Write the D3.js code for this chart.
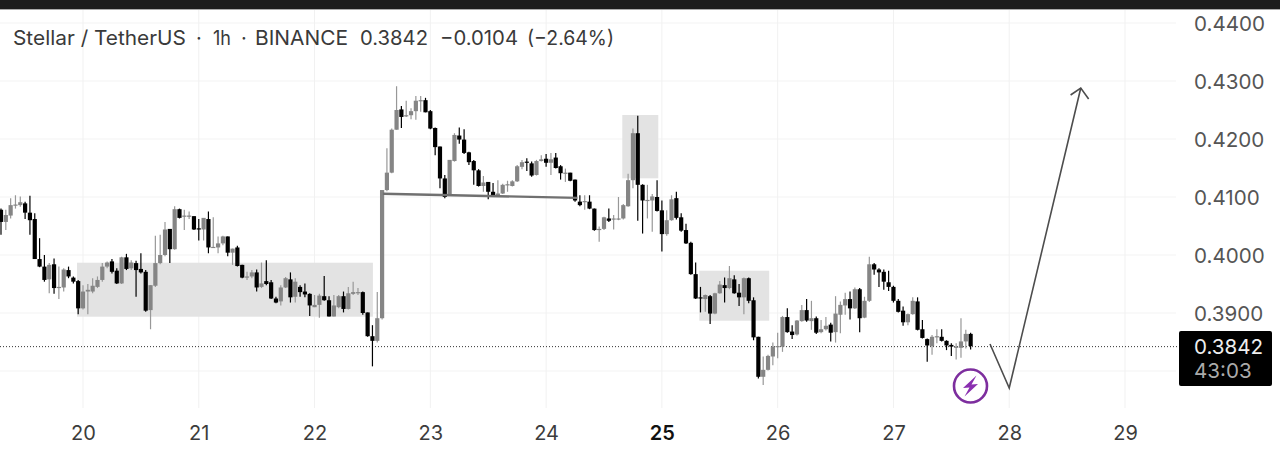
<!DOCTYPE html>
<html><head><meta charset="utf-8">
<script src="https://cdn.jsdelivr.net/npm/d3@7"></script>
<style>html,body{margin:0;padding:0;background:#fff;overflow:hidden}svg{display:block;font-family:Inter,Roboto,sans-serif}</style>
</head><body><div id="chart"></div>
<script>
const firstHour = -17; // hours relative to day 20 00:00
const opens = [.4078,.4057,.4068,.4085,.4086,.4089,.4073,.4062,.3993,.3980,.3958,.3984,.3943,.3944,.3974,.3961,.3955,
.3908,.3937,.3937,.3945,.3957,.3980,.3989,.3973,.3951,.3996,.3977,.3986,.3976,.3971,.3905,.3947,.3986,.4000,.4045,.4010,.4079,.4067,.4067,.4067,
.4046,.4044,.4062,.4013,.4013,.4020,.4032,.4004,.4013,.3983,.3961,.3963,.3970,.3945,.3955,.3953,.3925,.3920,.3944,.3958,.3928,.3945,.3937,.3933,
.3910,.3914,.3929,.3922,.3894,.3910,.3929,.3907,.3933,.3935,.3936,.3901,.3860,.3852,.3891,
.4112,.4142,.4216,.4251,.4240,.4241,.4248,.4266,.4267,.4248,.4219,.4187,.4132,.4105,.4162,.4206,.4199,.4177,.4162,.4146,.4119,.4126,.4109,.4102,.4106,.4121,.4119,.4127,.4152,.4161,.4158,.4138,.4162,
.4166,.4159,.4168,.4153,.4141,.4142,.4130,.4092,.4091,.4092,.4080,.4044,.4045,.4063,.4062,.4062,.4063,.4084,.4129,.4210,.4121,.4094,.4094,.4100,.4077,.4036,.4060,.4098,.4065,.4043,
.4021,.3967,.3927,.3924,.3929,.3899,.3934,.3948,.3943,.3958,.3935,.3927,.3960,.3922,.3859,.3790,.3802,.3825,.3842,.3842,.3893,.3868,.3863,.3886,.3905,.3886,.3891,.3867,.3872,.3880,.3867,.3897,.3913,.3924,.3908,.3941,.3892,.3921,
.3984,.3975,.3971,.3953,.3945,.3921,.3904,.3884,.3898,.3920,.3872,.3855,.3843,.3859,.3859,.3852,.3845,.3841,.3840,.3851,.3864];
const closes = [.4057,.4069,.4086,.4087,.4091,.4073,.4060,.3993,.3980,.3957,.3983,.3943,.3945,.3975,.3963,.3954,.3908,
.3937,.3940,.3947,.3957,.3980,.3987,.3971,.3951,.3996,.3976,.3987,.3974,.3970,.3904,.3948,.3986,.4000,.4044,.4010,.4079,.4064,.4068,.4068,.4044,
.4044,.4064,.4013,.4014,.4020,.4032,.4004,.4011,.3981,.3961,.3963,.3970,.3944,.3951,.3950,.3925,.3918,.3944,.3960,.3927,.3954,.3936,.3932,.3913,
.3914,.3930,.3922,.3894,.3913,.3929,.3907,.3934,.3936,.3936,.3900,.3860,.3852,.3891,.4112,
.4142,.4216,.4250,.4238,.4241,.4248,.4266,.4267,.4246,.4218,.4186,.4132,.4100,.4164,.4207,.4199,.4176,.4160,.4146,.4119,.4125,.4109,.4102,.4106,.4121,.4122,.4127,.4153,.4160,.4159,.4137,.4162,.4165,
.4159,.4165,.4150,.4141,.4142,.4128,.4094,.4086,.4093,.4080,.4043,.4045,.4065,.4059,.4063,.4063,.4086,.4129,.4210,.4121,.4094,.4095,.4101,.4076,.4036,.4060,.4096,.4064,.4042,.4020,
.3967,.3925,.3925,.3931,.3899,.3934,.3949,.3943,.3960,.3934,.3927,.3960,.3921,.3858,.3790,.3802,.3826,.3842,.3843,.3893,.3867,.3862,.3887,.3905,.3887,.3891,.3866,.3872,.3878,.3866,.3899,.3914,.3924,.3908,.3941,.3891,.3921,.3984,
.3975,.3970,.3954,.3945,.3921,.3902,.3884,.3898,.3921,.3871,.3857,.3844,.3859,.3860,.3852,.3844,.3842,.3842,.3851,.3864,.3843];
const highs = [.4080,.4078,.4098,.4103,.4101,.4092,.4102,.4072,.4029,.4000,.3986,.3994,.3980,.3977,.3980,.3963,.3957,
.3948,.3950,.3960,.3963,.3986,.3989,.3993,.3977,.3997,.4002,.3991,.3990,.4003,.3974,.3948,.4033,.4035,.4057,.4045,.4084,.4080,.4078,.4075,.4067,
.4062,.4064,.4075,.4065,.4032,.4033,.4032,.4011,.4016,.3983,.3971,.3974,.3975,.3987,.3991,.3957,.3928,.3948,.3962,.3970,.3960,.3948,.3951,.3934,
.3931,.3933,.3964,.3929,.3931,.3931,.3937,.3945,.3954,.3943,.3937,.3901,.3879,.3936,.4112,
.4184,.4218,.4291,.4257,.4266,.4253,.4274,.4274,.4271,.4250,.4220,.4187,.4138,.4164,.4210,.4220,.4217,.4178,.4164,.4148,.4136,.4126,.4124,.4129,.4123,.4128,.4129,.4155,.4164,.4167,.4161,.4164,.4172,
.4174,.4176,.4176,.4155,.4149,.4142,.4130,.4103,.4103,.4103,.4080,.4049,.4066,.4080,.4069,.4100,.4088,.4140,.4218,.4240,.4122,.4121,.4105,.4129,.4094,.4077,.4103,.4109,.4072,.4054,
.4023,.3987,.3945,.3932,.3931,.3935,.3955,.3961,.3981,.3965,.3950,.3961,.3961,.3927,.3859,.3825,.3828,.3849,.3866,.3895,.3908,.3879,.3888,.3914,.3924,.3921,.3894,.3888,.3893,.3883,.3929,.3920,.3935,.3937,.3944,.3943,.3928,.3997,
.3986,.3977,.3975,.3973,.3947,.3924,.3911,.3899,.3927,.3927,.3888,.3856,.3862,.3872,.3872,.3853,.3848,.3848,.3891,.3871,.3866];
const lows = [.4035,.4043,.4063,.4080,.4083,.4062,.4035,.3993,.3979,.3954,.3934,.3933,.3924,.3937,.3960,.3951,.3898,
.3906,.3898,.3934,.3943,.3954,.3977,.3968,.3950,.3950,.3974,.3974,.3928,.3968,.3902,.3872,.3945,.3984,.3998,.3986,.4009,.4063,.4043,.4062,.4043,
.4025,.4025,.4003,.4012,.4003,.4017,.3998,.3983,.3980,.3960,.3957,.3960,.3937,.3943,.3948,.3924,.3917,.3913,.3943,.3918,.3918,.3928,.3927,.3895,
.3910,.3892,.3921,.3894,.3894,.3908,.3901,.3906,.3931,.3931,.3897,.3859,.3808,.3849,.3889,
.4110,.4141,.4216,.4219,.4238,.4234,.4233,.4247,.4246,.4217,.4172,.4115,.4098,.4103,.4161,.4192,.4174,.4155,.4121,.4118,.4109,.4096,.4100,.4100,.4105,.4109,.4118,.4126,.4148,.4145,.4135,.4137,.4161,
.4152,.4138,.4149,.4130,.4126,.4127,.4092,.4084,.4078,.4079,.4042,.4023,.4043,.4057,.4044,.4060,.4061,.4083,.4115,.4059,.4037,.4063,.4040,.4075,.4006,.4033,.4059,.4061,.4040,.4019,
.3966,.3924,.3901,.3902,.3881,.3898,.3933,.3918,.3941,.3933,.3912,.3898,.3917,.3853,.3787,.3776,.3801,.3810,.3822,.3833,.3866,.3855,.3861,.3885,.3885,.3871,.3864,.3865,.3870,.3851,.3849,.3865,.3897,.3889,.3907,.3867,.3891,.3919,
.3966,.3945,.3940,.3938,.3918,.3901,.3878,.3879,.3897,.3870,.3856,.3816,.3828,.3848,.3851,.3836,.3826,.3820,.3823,.3839,.3837];
const priceTicks = [.44,.43,.42,.41,.40,.39];
const gridPrices = [.44,.43,.42,.41,.40,.39,.38];
const dayTicks = [20,21,22,23,24,25,26,27,28,29];
const boldDay = 25;
const lastPrice = .3842;
const countdown = "43:03";
const headerParts = ["Stellar / TetherUS","·","1h","·","BINANCE","0.3842","−0.0104","(−2.64%)"];
// highlighted zones: day start, day end, upper price, lower price
const zoneStart = [19.948,24.658,25.323];
const zoneEnd   = [22.504,24.969,25.927];
const zoneTop   = [.39867,.42414,.39729];
const zoneBot   = [.38936,.41322,.38867];
const necklineDays = [22.59,24.27];
const necklinePrices = [.41055,.40985];
const arrowDays = [27.834,28.0,28.618];
const arrowPrices = [.38466,.37707,.42879];
const arrowHeadDays = [28.530,28.618,28.686];
const arrowHeadPrices = [.42759,.42879,.42690];

const W=1280,H=451;
const x=d3.scaleLinear().domain([20,29]).range([83,1125]);
const y=d3.scaleLinear().domain([.38,.44]).range([371,23]);
const svg=d3.select("#chart").append("svg").attr("width",W).attr("height",H);
const defs=svg.append("defs");
defs.append("filter").attr("id","soft").attr("x","-2%").attr("y","-2%").attr("width","104%").attr("height","104%")
  .append("feGaussianBlur").attr("stdDeviation",0.4);
svg.append("rect").attr("width",W).attr("height",H).attr("fill","#fff");

// grid
svg.append("g").selectAll("line").data(gridPrices).join("line")
  .attr("x1",0).attr("x2",1176).attr("y1",d=>y(d)).attr("y2",d=>y(d)).attr("stroke","#f3f3f3");
svg.append("g").selectAll("line").data(dayTicks).join("line")
  .attr("x1",d=>x(d)).attr("x2",d=>x(d)).attr("y1",10).attr("y2",408).attr("stroke","#f1f1f1");

// zones
svg.append("g").selectAll("rect").data(zoneStart).join("rect")
  .attr("x",d=>x(d)).attr("width",(d,i)=>x(zoneEnd[i])-x(d))
  .attr("y",(d,i)=>y(zoneTop[i])).attr("height",(d,i)=>y(zoneBot[i])-y(zoneTop[i]))
  .attr("fill","#e3e3e3");

// last price dotted line
svg.append("line").attr("x1",0).attr("x2",1179).attr("y1",y(lastPrice)).attr("y2",y(lastPrice))
  .attr("stroke","#333").attr("stroke-width",1).attr("stroke-dasharray","1 2");

// candles
const candles=opens.map((o,i)=>({t:20+(firstHour+i)/24,o,c:closes[i],h:highs[i],l:lows[i]}));
const g=svg.append("g").attr("filter","url(#soft)");
const col=d=>d.c>=d.o?"#858585":"#000";
const wick=d=>d.c>=d.o?"#989898":"#000";
g.selectAll("line").data(candles).join("line")
  .attr("x1",d=>x(d.t)).attr("x2",d=>x(d.t)).attr("y1",d=>y(d.h)).attr("y2",d=>y(d.l))
  .attr("stroke",wick).attr("stroke-width",1.2);
g.selectAll("rect").data(candles).join("rect")
  .attr("x",d=>x(d.t)-2.1).attr("width",4.2)
  .attr("y",d=>y(Math.max(d.o,d.c))).attr("height",d=>Math.max(1.2,Math.abs(y(d.o)-y(d.c))))
  .attr("fill",col);

// neckline
const line=d3.line();
svg.append("path").attr("d",line(necklineDays.map((d,i)=>[x(d),y(necklinePrices[i])])))
  .attr("fill","none").attr("stroke","#707070").attr("stroke-width",2.4);

// arrow
svg.append("path").attr("d",line(arrowDays.map((d,i)=>[x(d),y(arrowPrices[i])])))
  .attr("fill","none").attr("stroke","#4d4d4d").attr("stroke-width",1.6);
svg.append("path").attr("d",line(arrowHeadDays.map((d,i)=>[x(d),y(arrowHeadPrices[i])])))
  .attr("fill","none").attr("stroke","#4d4d4d").attr("stroke-width",1.6);

// top bar
svg.append("rect").attr("width",W).attr("height",9).attr("fill","#1d1d1d");
svg.append("rect").attr("y",9).attr("width",W).attr("height",1).attr("fill","#aaa");

// header
const hx=[13,196,213,241,255,360,440,527];
const hw=[173,0,18,0,93,68,78,87];
svg.append("g").selectAll("text").data(headerParts).join("text")
  .attr("x",(d,i)=>hx[i]).attr("y",45).attr("font-size",20).attr("fill","#3a3a3a")
  .each(function(d,i){ if(hw[i]) d3.select(this).attr("textLength",hw[i]).attr("lengthAdjust","spacingAndGlyphs"); })
  .text(d=>d);

// axes
const ay=d3.axisRight(y).tickValues(priceTicks).tickSize(0).tickPadding(0).tickFormat(d3.format(".4f"));
const gy=svg.append("g").attr("transform","translate(1194,1)").call(ay);
gy.select(".domain").remove();
gy.selectAll("text").attr("font-size",20.6).attr("font-family","Inter,Roboto,sans-serif").attr("fill","#555");

const ax=d3.axisBottom(x).tickValues(dayTicks).tickSize(0).tickPadding(0).tickFormat(d3.format("d"));
const gx=svg.append("g").attr("transform","translate(0,426)").call(ax);
gx.select(".domain").remove();
gx.selectAll("text").attr("font-size",20).attr("font-family","Inter,Roboto,sans-serif")
  .attr("font-weight",d=>d===boldDay?600:400).attr("fill",d=>d===boldDay?"#111":"#3c3c3c");

// last price label
svg.append("rect").attr("x",1179).attr("y",331).attr("width",93).attr("height",55).attr("rx",2).attr("fill","#000");
svg.append("text").attr("x",1194).attr("y",y(lastPrice)+7).attr("font-size",20.6).attr("fill","#eee").text(d3.format(".4f")(lastPrice));
svg.append("text").attr("x",1194).attr("y",378).attr("font-size",20.6).attr("fill","#aaa").text(countdown);

// flash badge
const b=svg.append("g").attr("transform","translate(970.5,386)");
b.append("circle").attr("r",16.5).attr("fill","#fff").attr("stroke","#7d2e9e").attr("stroke-width",2.6);
b.append("path").attr("d","M6,-10.5 L-7.5,2 L-1,1.5 L-6,10.5 L7.5,-2 L1,-1.5 Z").attr("fill","#8a2fb0");
</script></body></html>
